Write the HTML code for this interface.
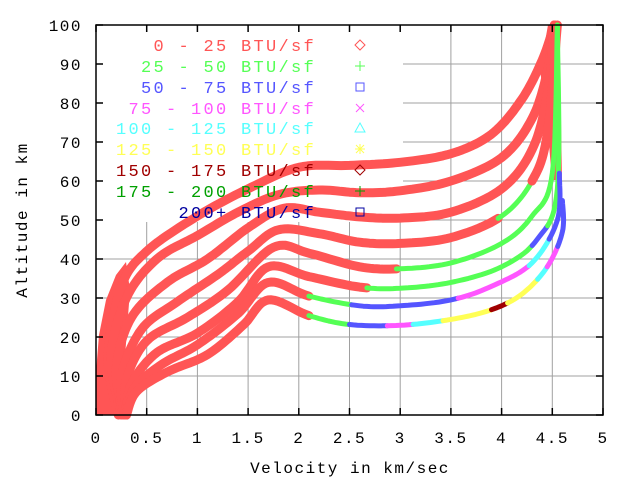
<!DOCTYPE html>
<html><head><meta charset="utf-8"><style>
html,body{margin:0;padding:0;background:#fff;width:640px;height:480px;overflow:hidden}
svg text{font-family:"Liberation Mono","DejaVu Sans Mono",monospace;font-size:16px;letter-spacing:1.5px}
</style></head><body>
<svg id="s" width="640" height="480" viewBox="0 0 640 480" xmlns="http://www.w3.org/2000/svg">
<rect width="640" height="480" fill="#fff"/>
<g id="grid" stroke="#a0a0a0" stroke-width="1"></g>
<rect x="97" y="26" width="306" height="196" fill="#fff"/>
<g id="curves"></g>
<rect x="96" y="25" width="507" height="390" fill="none" stroke="#000" stroke-width="1.5"/>
<g id="ticks" stroke="#000" stroke-width="1.5"></g>
<g id="labels" fill="#000"></g>
<text x="350" y="473" text-anchor="middle" fill="#000">Velocity in km/sec</text>
<text transform="translate(27,220) rotate(-90)" text-anchor="middle" fill="#000">Altitude in km</text>
<g id="legend"></g>
</svg>
<script>
const NS="http://www.w3.org/2000/svg";
const X=v=>96+101.4*v, Y=h=>415-3.9*h;
function el(p,t,a,txt){const e=document.createElementNS(NS,t);for(const k in a)e.setAttribute(k,a[k]);if(txt!==undefined)e.textContent=txt;p.appendChild(e);return e;}
const grid=document.getElementById('grid'),ticks=document.getElementById('ticks'),labels=document.getElementById('labels');
for(let i=0;i<=10;i++){const x=X(i*0.5);
 if(i>0&&i<10)el(grid,'line',{x1:x,y1:25,x2:x,y2:415});
 el(ticks,'line',{x1:x,y1:415,x2:x,y2:408});el(ticks,'line',{x1:x,y1:25,x2:x,y2:32});
 el(labels,'text',{x:x,y:443,'text-anchor':'middle'},String(i*0.5));}
for(let i=0;i<=10;i++){const y=Y(i*10);
 if(i>0&&i<10)el(grid,'line',{x1:96,y1:y,x2:603,y2:y});
 el(ticks,'line',{x1:96,y1:y,x2:103,y2:y});el(ticks,'line',{x1:603,y1:y,x2:596,y2:y});
 el(labels,'text',{x:82,y:y+6,'text-anchor':'end'},String(i*10));}
const C=[
[[0.22,0],[0.12,15],[0.25,33],[0.5,42],[1,51],[1.5,58],[2,63.5],[2.5,64],[3,64.8],[3.5,67],[3.9,72],[4.2,81],[4.4,91],[4.52,100]],
[[0.25,0],[0.15,15],[0.3,30],[0.6,40],[1,46],[1.4,52],[1.8,56.5],[2.2,57.7],[2.6,57],[3,57.5],[3.5,60],[4,66],[4.3,76],[4.45,88],[4.52,100]],
[[0.27,0],[0.2,12],[0.35,25],[0.7,34],[1.1,40],[1.5,48],[1.85,53],[2.2,52],[2.6,50.8],[3,50.5],[3.5,52],[4,58],[4.3,68],[4.45,82],[4.52,100]],
[[0.28,0],[0.25,10],[0.45,22],[0.8,29],[1.2,36],[1.5,42],[1.8,47.5],[2.2,46.5],[2.6,44.3],[3,44],[3.5,45.5],[4,51],[4.3,60],[4.45,72],[4.55,100]],
[[0.3,0],[0.3,9],[0.5,19],[0.9,25],[1.3,32],[1.75,43],[2.1,41.5],[2.6,38],[3,37.5],[3.5,39],[4,44],[4.3,51],[4.5,62],[4.55,100]],
[[0.3,0],[0.35,8],[0.6,16],[1,21],[1.4,29],[1.7,38],[2.1,35.5],[2.6,32.8],[3,32.5],[3.5,34],[4,38],[4.35,45],[4.55,58],[4.55,100]],
[[0.3,0],[0.38,7],[0.65,13],[1,18],[1.4,26],[1.7,34],[2.1,30.5],[2.6,28],[3,28],[3.5,29.5],[3.9,33],[4.3,39],[4.55,50],[4.57,62]],
[[0.3,0],[0.4,6],[0.7,11],[1.1,15.5],[1.45,23],[1.7,29.5],[2.1,25.5],[2.5,23.2],[3,23],[3.5,24.5],[3.9,27],[4.2,31],[4.45,38],[4.6,47],[4.6,55]]];
const col={r:"#ff5555",g:"#55ff55",b:"#5555ff",m:"#ff55ff",c:"#55ffff",y:"#ffff55",R:"#a00000",G:"#00a000",B:"#0000a0"};
function colorFor(ci,v,h,after){
 if(ci===7&&after){ if(v<2.1)return'r'; if(v<2.5)return'g'; if(v<2.85)return'b'; if(v<3.1)return'm'; if(v<3.4)return'c'; if(v<3.9)return'y'; if(v<4.05)return'R'; if(v<4.35)return'y'; if(v<4.45)return'c'; if(h<43)return'm'; return'b';}
 if(ci===6&&after){ if(v<2.1)return'r'; if(v<2.5)return'g'; if(v<3.55)return'b'; if(v<4.25)return'm'; if(h<45)return'c'; return'b';}
 if(ci===5&&after){ if(v<2.65)return'r'; if(v<4.3)return'g'; if(h<48)return'b'; return'g';}
 if(ci===4&&after){ if(v<2.95)return'r'; return'g';}
 if(ci===3&&after){ if(v<3.95)return'r'; if(h<60)return'g'; return'r';}
 return'r';}
function cr(p0,p1,p2,p3,t){const t2=t*t,t3=t2*t;return 0.5*((2*p1)+(-p0+p2)*t+(2*p0-5*p1+4*p2-p3)*t2+(-p0+3*p1-3*p2+p3)*t3);}
const cg=document.getElementById('curves');
el(cg,'polygon',{points:"96,415 96,372 99,335 106,300 116,275 126,262 130,290 127,330 124,370 128,415",fill:col.r});
el(cg,'polygon',{points:"548,25 554,25 558,60 561,120 562,180 552,180 547,120 540,70",fill:col.r});
C.forEach((pts,ci)=>{
 const s=[];
 for(let i=0;i<pts.length-1;i++){const p0=pts[Math.max(0,i-1)],p1=pts[i],p2=pts[i+1],p3=pts[Math.min(pts.length-1,i+2)];
  for(let k=0;k<12;k++){const t=k/12;s.push([cr(p0[0],p1[0],p2[0],p3[0],t),cr(p0[1],p1[1],p2[1],p3[1],t)]);}}
 s.push(pts[pts.length-1]);
 let seg=[],cur=null;const segs=[];
 s.forEach(([v,h])=>{const c=colorFor(ci,v,h,v>1.9);if(c!==cur){if(seg.length)segs.push([cur,seg.concat([[v,h]])]);seg=[];cur=c;}seg.push([v,h]);});
 if(seg.length)segs.push([cur,seg]);
 segs.forEach(([c,sg])=>{el(cg,'polyline',{points:sg.map(p=>X(p[0]).toFixed(1)+','+Y(p[1]).toFixed(1)).join(' '),fill:'none',stroke:col[c],'stroke-width':c==='r'?9:5,'stroke-linejoin':'round','stroke-linecap':'round'});});
});
const lg=document.getElementById('legend');
const L=[["0 - 25 BTU/sf","r","d"],["25 - 50 BTU/sf","g","p"],["50 - 75 BTU/sf","b","s"],["75 - 100 BTU/sf","m","x"],["100 - 125 BTU/sf","c","t"],["125 - 150 BTU/sf","y","*"],["150 - 175 BTU/sf","R","d"],["175 - 200 BTU/sf","G","p"],["200+ BTU/sf","B","s"]];
const ys=[45,66,87,108,128,149,170,191,212];
L.forEach((l,i)=>{const y=ys[i],c=col[l[1]];
 el(lg,'text',{x:316,y:y+6,'text-anchor':'end',fill:c,style:'font-size:17px;letter-spacing:2.3px'},l[0]);
 const mx=360,st={fill:'none',stroke:c,'stroke-width':1};
 if(l[2]==='d')el(lg,'polygon',Object.assign({points:`${mx},${y-5} ${mx+5},${y} ${mx},${y+5} ${mx-5},${y}`},st));
 if(l[2]==='p'){el(lg,'path',Object.assign({d:`M${mx-5},${y}H${mx+5}M${mx},${y-5}V${y+5}`},st));}
 if(l[2]==='s')el(lg,'rect',Object.assign({x:mx-4,y:y-4,width:8,height:8},st));
 if(l[2]==='x')el(lg,'path',Object.assign({d:`M${mx-4},${y-4}L${mx+4},${y+4}M${mx+4},${y-4}L${mx-4},${y+4}`},st));
 if(l[2]==='t')el(lg,'polygon',Object.assign({points:`${mx},${y-5} ${mx+5},${y+4} ${mx-5},${y+4}`},st));
 if(l[2]==='*')el(lg,'path',Object.assign({d:`M${mx-5},${y}H${mx+5}M${mx},${y-5}V${y+5}M${mx-4},${y-4}L${mx+4},${y+4}M${mx+4},${y-4}L${mx-4},${y+4}`},st));
});
</script>
</body></html>
